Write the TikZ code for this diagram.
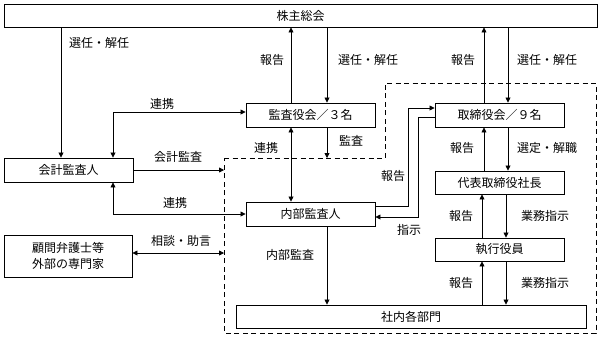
\documentclass[tikz,border=0pt]{standalone}
\usepackage{fontspec}
\setmainfont{Noto Sans CJK JP}
\usetikzlibrary{arrows.meta}

\tikzset{
  box/.style={draw, line width=0.9pt, inner sep=0pt},
  lbl/.style={inner sep=0pt},
  arr/.style={-{Triangle[length=5pt,width=5pt]}, line width=0.75pt},
  darr/.style={{Triangle[length=5pt,width=5pt]}-{Triangle[length=5pt,width=5pt]}, line width=0.75pt},
  grp/.style={line width=0.9pt, dash pattern=on 5pt off 3.5pt}
}

\begin{document}
\begin{tikzpicture}[x=1pt, y=-1pt, font=\fontsize{12}{16.5}\selectfont]

\useasboundingbox (0,0) rectangle (606,341);

% ---- dashed group (監査の範囲) ----
\draw[grp] (224,158) -- (385,158) -- (385,83) -- (596,83) -- (596,333) -- (224,333) -- cycle;

% ---- boxes ----
\node[box, minimum width=593, minimum height=23] (soukai) at (300.5,15.5) {株主総会};
\node[box, minimum width=129, minimum height=24] (kansa) at (310.5,115) {監査役会／３名};
\node[box, minimum width=129, minimum height=24] (torishimari) at (499.5,115) {取締役会／９名};
\node[box, minimum width=129, minimum height=24] (kaikei) at (68.5,170) {会計監査人};
\node[box, minimum width=129, minimum height=23] (shacho) at (499.5,182.5) {代表取締役社長};
\node[box, minimum width=129, minimum height=24] (naibu) at (310.5,214) {内部監査人};
\node[box, minimum width=129, minimum height=23] (shikko) at (499.5,249.5) {執行役員};
\node[box, minimum width=128, minimum height=42, align=center] (komon) at (68,256) {顧問弁護士等\\外部の専門家};
\node[box, minimum width=350, minimum height=23] (shanai) at (411,316.5) {社内各部門};

% columns and rows for the connectors
\coordinate (colA) at (61,0);
\coordinate (colB) at (113,0);
\coordinate (colC) at (291,0);
\coordinate (colD) at (327,0);
\coordinate (colP) at (408,0);
\coordinate (colQ) at (418,0);
\coordinate (colE) at (484,0);
\coordinate (colF) at (508,0);
\coordinate (colG) at (482,0);
\coordinate (colH) at (506,0);
\coordinate (dashL) at (224,0);
\coordinate (dashT) at (0,158);
\coordinate (rowR) at ([yshift=7pt]torishimari.west);
\coordinate (rowS) at ([yshift=-2pt]torishimari.west);
\coordinate (rowT) at ([yshift=-3pt]naibu.east);

% ---- 株主総会 ----
\draw[arr] (soukai.south -| colA) -- (kaikei.north -| colA);
\draw[arr] (kansa.north -| colC) -- (soukai.south -| colC);
\draw[arr] (soukai.south -| colD) -- (kansa.north -| colD);
\draw[arr] (torishimari.north -| colE) -- (soukai.south -| colE);
\draw[arr] (soukai.south -| colF) -- (torishimari.north -| colF);

% ---- 監査役会 / 会計監査人 / 内部監査人 ----
\draw[darr] (kaikei.north -| colB) |- ([yshift=3pt]kansa.west);
\draw[arr] (kansa.south -| colD) -- (dashT -| colD);
\draw[darr] (kansa.south -| colC) -- (naibu.north -| colC);
\draw[arr] (kaikei.east) -- (kaikei.east -| dashL);
\draw[darr] (kaikei.south -| colB) |- (naibu.west);
\draw[darr] ([yshift=3pt]komon.east) -- ([yshift=3pt]komon.east -| dashL);
\draw[arr] (naibu.south -| colD) -- (shanai.north -| colD);

% 報告 / 指示
\draw[arr] ([yshift=8pt]naibu.east) -| (rowR -| colP) -- (rowR);
\draw[arr] (rowS) -| (rowT -| colQ) -- (rowT);

% ---- 執行側 ----
\draw[arr] (shacho.north -| colE) -- (torishimari.south -| colE);
\draw[arr] (torishimari.south -| colF) -- (shacho.north -| colF);
\draw[arr] (shikko.north -| colG) -- (shacho.south -| colG);
\draw[arr] (shacho.south -| colH) -- (shikko.north -| colH);
\draw[arr] (shanai.north -| colG) -- (shikko.south -| colG);
\draw[arr] (shikko.south -| colH) -- (shanai.north -| colH);

% ---- labels ----
\node[lbl] (lSenA) at (99,43) {選任・解任};
\node[lbl] (lHouA) at (272,60) {報告};
\node[lbl] (lSenB) at (368,60) {選任・解任};
\node[lbl] (lHouB) at (463,60) {報告};
\node[lbl] (lSenC) at (547,60) {選任・解任};
\node[lbl] (lRenA) at (162,104) {連携};
\node[lbl] (lKansa) at (351,141) {監査};
\node[lbl] (lRenB) at (266,148) {連携};
\node[lbl] (lHouC) at (462,148) {報告};
\node[lbl] (lSentei) at (547,148) {選定・解職};
\node[lbl] (lKaikei) at (178,157) {会計監査};
\node[lbl] (lHouD) at (393,176) {報告};
\node[lbl] (lRenC) at (175,203) {連携};
\node[lbl] (lHouE) at (461,216) {報告};
\node[lbl] (lGyoA) at (545,216) {業務指示};
\node[lbl] (lShiji) at (409,230) {指示};
\node[lbl] (lSoudan) at (181,241) {相談・助言};
\node[lbl] (lNaibu) at (290,255) {内部監査};
\node[lbl] (lHouF) at (461,283) {報告};
\node[lbl] (lGyoB) at (545,283) {業務指示};

\end{tikzpicture}
\end{document}
